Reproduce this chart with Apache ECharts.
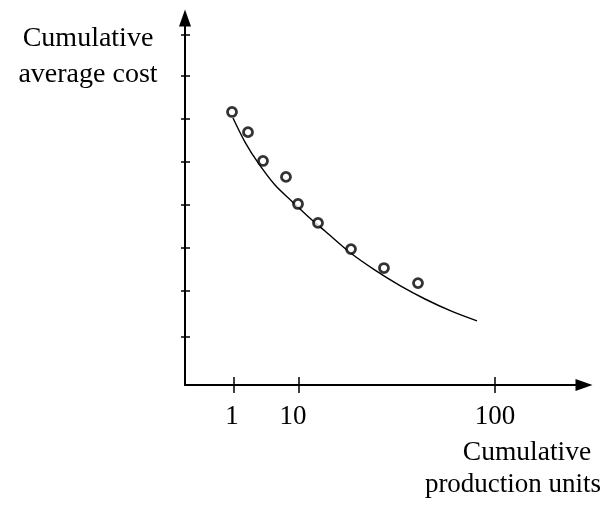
<!DOCTYPE html>
<html>
<head>
<meta charset="utf-8">
<script src="https://cdn.jsdelivr.net/npm/echarts@6/dist/echarts.min.js"></script>
<style>
  html, body { margin: 0; padding: 0; background: #fff; }
  #chart { width: 604px; height: 506px; }
</style>
</head>
<body>
<div id="chart"></div>
<script>
// Observed cumulative average cost (schematic position units on both axes)
const obsX = [11.52, 15.44, 19.12, 24.75, 27.70, 32.60, 40.69, 48.77, 57.11];
const obsY = [6.35, 5.88, 5.21, 4.84, 4.21, 3.77, 3.16, 2.72, 2.37];

// Fitted learning curve
const curveX = [11.76, 14.71, 17.89, 22.06, 26.23, 30.15, 34.31, 40.44, 46.57, 52.70, 58.82, 65.44, 71.57];
const curveY = [6.21, 5.65, 5.17, 4.65, 4.27, 3.92, 3.58, 3.08, 2.67, 2.31, 2.00, 1.71, 1.49];

// Tick marks and labels
const xTickPos = [12, 27.9, 76];
const xLabelPos = [11.5, 26.5, 76];
const xTickLabels = ['1', '10', '100'];
const yTickPos = [1.12, 2.19, 3.19, 4.19, 5.19, 6.19, 7.19, 8.14];

const X_MAX = 97.8;
const Y_MAX = 8.535;
const FONT = '"Liberation Serif", "Times New Roman", serif';
const INK = '#000';

const zip = (xs, ys) => xs.map((x, i) => [x, ys[i]]);
const labelFor = v => {
  const i = xLabelPos.findIndex(p => Math.abs(p - v) < 1e-6);
  return i >= 0 ? xTickLabels[i] : '';
};

const chart = echarts.init(document.getElementById('chart'), null, { renderer: 'canvas' });

const baseAxis = {
  type: 'value',
  splitLine: { show: false },
  axisPointer: { show: false }
};

chart.setOption({
  animation: false,
  backgroundColor: '#fff',
  grid: { left: 185, right: 20, top: 18, bottom: 121, outerBoundsMode: 'none', containLabel: false },
  xAxis: [
    Object.assign({}, baseAxis, {
      position: 'bottom',
      min: 0, max: X_MAX,
      axisLine: { show: true, symbol: ['none', 'triangle'], symbolSize: [12, 17], lineStyle: { color: INK, width: 2 } },
      axisTick: { show: true, customValues: xTickPos, length: 8, inside: false, lineStyle: { color: INK, width: 1.5 } },
      axisLabel: {
        show: true, customValues: xLabelPos, margin: 18,
        formatter: labelFor,
        color: INK, fontFamily: FONT, fontSize: 27
      }
    }),
    Object.assign({}, baseAxis, {
      position: 'bottom',
      min: 0, max: X_MAX,
      axisLine: { show: false },
      axisTick: { show: true, customValues: xTickPos, length: 8, inside: true, lineStyle: { color: INK, width: 1.5 } },
      axisLabel: { show: false }
    })
  ],
  yAxis: [
    Object.assign({}, baseAxis, {
      position: 'left',
      min: 0, max: Y_MAX,
      axisLine: { show: true, symbol: ['none', 'triangle'], symbolSize: [12, 17], lineStyle: { color: INK, width: 2 } },
      axisTick: { show: true, customValues: yTickPos, length: 4, inside: false, lineStyle: { color: INK, width: 1.5 } },
      axisLabel: { show: false }
    }),
    Object.assign({}, baseAxis, {
      position: 'left',
      offset: 0,
      min: 0, max: Y_MAX,
      axisLine: { show: false },
      axisTick: { show: true, customValues: yTickPos, length: 5, inside: true, lineStyle: { color: INK, width: 1.5 } },
      axisLabel: { show: false }
    })
  ],
  graphic: [
    { type: 'text', x: 88, y: 39, style: { text: 'Cumulative', font: '28px ' + FONT, fill: INK, textAlign: 'center', textVerticalAlign: 'middle' } },
    { type: 'text', x: 88, y: 75, style: { text: 'average cost', font: '28px ' + FONT, fill: INK, textAlign: 'center', textVerticalAlign: 'middle' } },
    { type: 'text', x: 527, y: 453, style: { text: 'Cumulative', font: '27.5px ' + FONT, fill: INK, textAlign: 'center', textVerticalAlign: 'middle' } },
    { type: 'text', x: 513, y: 485, style: { text: 'production units', font: '27px ' + FONT, fill: INK, textAlign: 'center', textVerticalAlign: 'middle' } }
  ],
  series: [
    {
      type: 'line',
      xAxisIndex: 0, yAxisIndex: 0,
      data: zip(curveX, curveY),
      smooth: 0.3,
      showSymbol: false,
      lineStyle: { color: INK, width: 1.4 },
      z: 2
    },
    {
      type: 'scatter',
      xAxisIndex: 0, yAxisIndex: 0,
      data: zip(obsX, obsY),
      symbol: 'circle',
      symbolSize: 9,
      itemStyle: { color: '#fff', borderColor: INK, borderWidth: 2.8 },
      z: 3
    }
  ]
});
</script>
</body>
</html>
